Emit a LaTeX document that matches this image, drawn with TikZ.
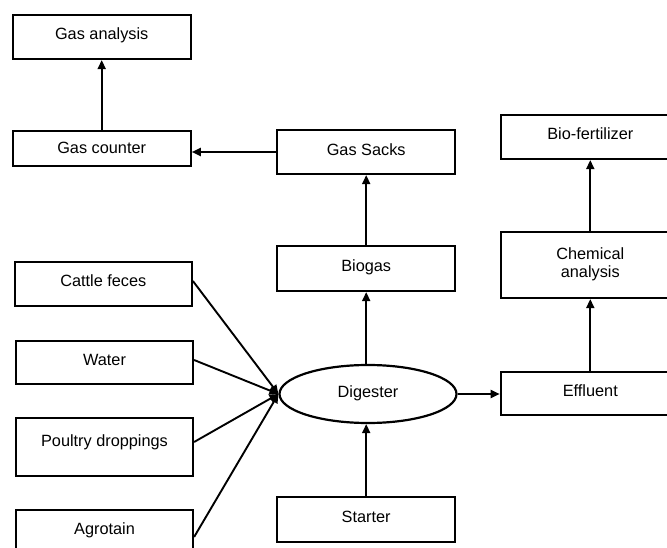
\documentclass[tikz,border=0pt]{standalone}
\usepackage{fontspec}
\setmainfont{Liberation Sans}
\usetikzlibrary{shapes.geometric,arrows.meta}
\begin{document}
\begin{tikzpicture}[x=1pt,y=-1pt,
  box/.style={draw, line width=2.2pt, rectangle, minimum width=178pt, inner sep=0pt,
    font=\fontsize{16.3}{18}\selectfont},
  oval/.style={draw, line width=2.2pt, ellipse, minimum width=177pt, minimum height=58pt, inner sep=0pt,
    font=\fontsize{16.3}{18}\selectfont},
  arr/.style={line width=1.9pt, -{Triangle[length=9pt,width=8pt]}}]
\useasboundingbox (0,0) rectangle (667,548);
\clip (0,0) rectangle (667,548);
% left column
\node[box, minimum height=44pt] (ga) at (101.7,37) {\raisebox{6pt}{Gas analysis}};
\node[box, minimum height=35pt] (gc) at (101.7,148.5) {\raisebox{1pt}{Gas counter}};
\node[box, minimum width=177pt, minimum height=44pt] (cf) at (103.3,284) {\raisebox{6pt}{Cattle feces}};
\node[box, minimum width=177pt, minimum height=43pt] (wa) at (104.5,362.5) {\raisebox{6pt}{Water}};
\node[box, minimum width=177pt, minimum height=58pt] (pd) at (104.5,447) {\raisebox{12pt}{Poultry droppings}};
\node[box, minimum width=177pt, minimum height=44pt] (ag) at (104.5,532) {\raisebox{6pt}{Agrotain}};
% middle column
\node[box, minimum height=44pt] (gs) at (366.2,152) {\raisebox{5pt}{Gas Sacks}};
\node[box, minimum height=45pt] (bg) at (366.2,268.5) {\raisebox{5pt}{Biogas}};
\node[oval] (dg) at (368,394) {\raisebox{5pt}{Digester}};
\node[box, minimum height=45pt] (st) at (366.2,519.5) {\raisebox{5pt}{Starter}};
% right column
\node[box, minimum width=179pt, minimum height=44pt] (bf) at (590.3,137) {\raisebox{6pt}{Bio-fertilizer}};
\node[box, minimum width=179pt, minimum height=66pt] (ca) at (590.3,265) {\raisebox{6pt}{\begin{tabular}{@{}c@{}}Chemical\\analysis\end{tabular}}};
\node[box, minimum width=179pt, minimum height=43pt] (ef) at (590.3,393.5) {\raisebox{5pt}{Effluent}};
% connectors
\draw[arr] (gc.north) -- (ga.south);
\draw[arr] (gs.west) -- (gs.west -| gc.east);
\draw[arr] (bg.north) -- (gs.south);
\draw[arr] (dg.north -| bg.south) -- (bg.south);
\draw[arr] (st.north) -- (st.north |- dg.south);
\draw[arr] (dg.east) -- (ef.west |- dg.east);
\draw[arr] (ef.north) -- (ca.south);
\draw[arr] (ca.north) -- (bf.south);
\coordinate (in) at (dg.west);
\draw[arr] ([yshift=3pt]cf.east) -- (in);
\draw[arr] ([yshift=2.5pt]wa.east) -- (in);
\draw[arr] ([yshift=5pt]pd.east) -- (in);
\draw[arr] ([yshift=-5pt]ag.east) -- (in);
\end{tikzpicture}
\end{document}
